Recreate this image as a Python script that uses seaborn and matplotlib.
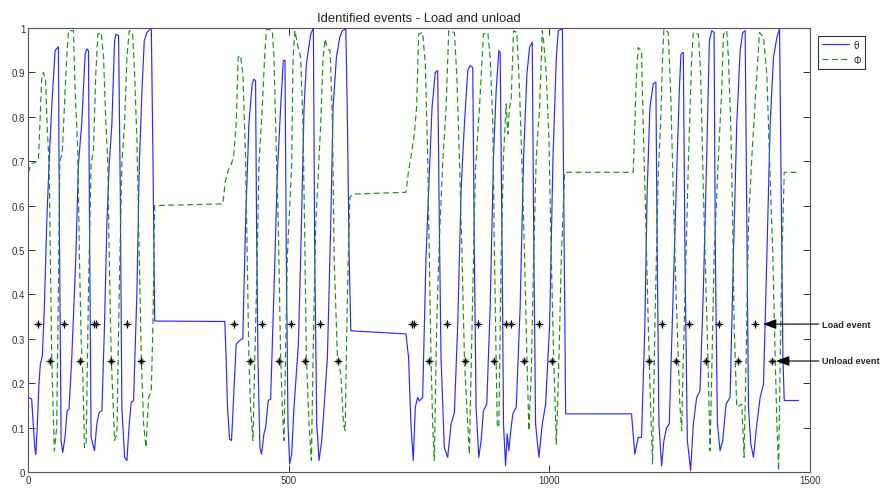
import numpy as np
import matplotlib
matplotlib.use("Agg")
import matplotlib.pyplot as plt
import seaborn as sns

sns.set_theme(style="white")
plt.rcParams["font.family"] = ["Liberation Sans", "DejaVu Sans"]

# theta (blue, solid)
theta_x = [
    0, 7, 10, 13.5, 15, 18, 21, 23.7, 27.6, 31.4,
    35.9, 40.4, 45.5, 52, 58.3, 60.2, 63.5, 66.7, 71, 75,
    78.8, 84, 91.7, 96.8, 103, 109.6, 112.8, 116, 118, 121,
    127.5, 132, 136.5, 141.7, 146.8, 151.3, 155.8, 160.9, 166, 168.6,
    173.7, 177, 180, 185.3, 189.7, 194.2, 198, 202.5, 209, 213.5,
    218.6, 223, 228.2, 236.5, 239.7, 243,
    377.5, 380, 382.7, 386.5, 390.4, 394.9, 399.3, 405.8, 412, 417.3,
    423.7, 430, 433.3, 436.5, 438.4, 441, 444.9, 448, 452.6, 455.8,
    460.9, 465.4, 471.8, 478.2, 484.6, 489.7, 492.9, 495.5, 498.7, 501.9,
    505.8, 510.2, 514.7, 518.6, 523, 529.5, 534, 542.3, 547.4, 550,
    553.8, 558.3, 563.4, 567.9, 574.3, 580.7, 585.2, 591.6, 598, 603.2,
    609.6, 612.8, 616, 619.2,
    725, 730, 734.5, 739, 742.9, 747.4, 750.6, 757, 763.4, 769.8,
    775, 781.3, 785.8, 789, 792.2, 798.6, 805, 811.5, 817.9, 824.3,
    830.7, 837.1, 843.5, 848, 853.1, 856.3, 859.5, 864.7, 869.2, 873.6,
    880, 886.5, 892.9, 898, 903.1, 905.7, 909.5, 912.1, 916, 919.2,
    922.4, 925.6, 930, 936.5, 944, 950.6, 957, 962, 967.2, 970.4,
    973.6, 980, 986.5, 992.9, 1000.6, 1007, 1013.4, 1017.2, 1025, 1027.5,
    1031.3,
    1157.6, 1164, 1170.4, 1176.8, 1183.3, 1187.7, 1192.9, 1199.3, 1204.4, 1207,
    1210.2, 1215.3, 1219.8, 1224.9, 1230, 1237.7, 1244.2, 1249.3, 1252.5, 1257,
    1260.2, 1264.7, 1271, 1276.2, 1282.6, 1289, 1295.4, 1301.8, 1307, 1311.5,
    1316, 1318.5, 1322.4, 1327.5, 1332.6, 1339, 1346.7, 1353, 1359.5, 1366,
    1371, 1375.6, 1378.8, 1382, 1386.5, 1391.6, 1398, 1404.4, 1410.8, 1417.2,
    1423.6, 1430, 1436.5, 1441.6, 1444.1, 1448, 1450.6, 1478,
]
theta_y = [
    0.167, 0.165, 0.108, 0.048, 0.04, 0.108, 0.198, 0.243, 0.262, 0.371,
    0.559, 0.694, 0.821, 0.949, 0.958, 0.559, 0.07, 0.044, 0.078, 0.138,
    0.142, 0.258, 0.483, 0.694, 0.784, 0.941, 0.953, 0.949, 0.559, 0.078,
    0.048, 0.108, 0.134, 0.138, 0.333, 0.559, 0.694, 0.784, 0.971, 0.986,
    0.983, 0.634, 0.146, 0.033, 0.026, 0.108, 0.157, 0.161, 0.408, 0.694,
    0.859, 0.971, 0.99, 1.0, 0.709, 0.34,
    0.339, 0.258, 0.146, 0.074, 0.071, 0.183, 0.288, 0.296, 0.3, 0.559,
    0.784, 0.874, 0.885, 0.881, 0.559, 0.258, 0.055, 0.04, 0.086, 0.1,
    0.161, 0.164, 0.408, 0.671, 0.821, 0.926, 0.928, 0.483, 0.108, 0.018,
    0.04, 0.146, 0.221, 0.288, 0.483, 0.821, 0.919, 0.986, 1.0, 0.483,
    0.108, 0.026, 0.071, 0.146, 0.258, 0.559, 0.821, 0.934, 0.979, 0.994,
    0.998, 0.784, 0.483, 0.318,
    0.311, 0.258, 0.108, 0.026, 0.146, 0.168, 0.16, 0.168, 0.483, 0.671,
    0.821, 0.9, 0.904, 0.559, 0.258, 0.055, 0.033, 0.108, 0.134, 0.333,
    0.634, 0.784, 0.904, 0.915, 0.911, 0.483, 0.146, 0.033, 0.071, 0.138,
    0.153, 0.371, 0.709, 0.859, 0.949, 0.945, 0.483, 0.108, 0.014, 0.086,
    0.048, 0.089, 0.131, 0.146, 0.371, 0.709, 0.896, 0.956, 0.968, 0.483,
    0.108, 0.033, 0.108, 0.153, 0.333, 0.709, 0.934, 0.994, 0.998, 0.634,
    0.131,
    0.131, 0.04, 0.078, 0.078, 0.333, 0.634, 0.821, 0.874, 0.878, 0.483,
    0.108, 0.014, 0.071, 0.1, 0.108, 0.408, 0.671, 0.859, 0.941, 0.945,
    0.483, 0.071, 0.003, 0.108, 0.168, 0.183, 0.408, 0.709, 0.971, 0.994,
    0.99, 0.483, 0.108, 0.048, 0.071, 0.153, 0.168, 0.483, 0.784, 0.949,
    0.99, 0.994, 0.559, 0.146, 0.063, 0.033, 0.108, 0.168, 0.198, 0.483,
    0.784, 0.934, 0.979, 0.998, 0.709, 0.258, 0.161, 0.161,
]

# phi (green, dashed)
phi_x = [
    0, 2, 5.8, 13.5, 19.9, 23.1, 26.3, 29.5, 34, 36.5,
    40.4, 43, 45.5, 48, 50.6, 55, 58.3, 60.9, 66, 71.2,
    74.4, 77.6, 87.2, 90.4, 95.5, 98.7, 102, 105.1, 108.3, 111.5,
    116, 121, 125.6, 130, 134, 140.4, 144.9, 149.4, 153.2, 155.8,
    159.6, 162.8, 166, 170.5, 175, 180, 185.3, 189.7, 194.2, 200.6,
    204.5, 209, 213.5, 217.3, 221.8, 226.3, 231.4, 236.5, 239.7, 243,
    373.7, 378.8, 384, 390.4, 394.9, 399.3, 403.2, 407.7, 412.2, 417.3,
    420.5, 423.7, 426.9, 431.4, 435.2, 439.7, 443, 449.3, 454.5, 457.7,
    468.6, 471.8, 476.3, 480.1, 484.6, 487.8, 491, 497.4, 505.8, 508.3,
    512.2, 516.6, 523, 527.5, 531.4, 534, 539, 543.6, 546.8, 552,
    561.5, 566, 569.9, 574.3, 579.5, 584, 587.2, 593.6, 600, 605.1,
    608.3, 612.8, 617.3, 623.7,
    725, 730, 734.5, 741, 745.4, 749.3, 757, 762.1, 766.6, 769.8,
    773, 776.2, 779.4, 783.9, 789, 795.4, 801.9, 807, 817.9, 822.4,
    827.5, 832.6, 837.1, 841.6, 846.7, 851.8, 858.3, 866, 873.6, 882,
    886.5, 891.6, 894.8, 898, 900, 903.1, 907.6, 912, 917.2, 920.4,
    923.6, 926.8, 931.3, 937.7, 942.9, 948, 952.5, 957, 960.8, 965.3,
    969.8, 974.9, 981.3, 986.5, 989, 994.2, 999.3, 1003.8, 1008.3, 1013.4,
    1018.5, 1023, 1029.4,
    1160.8, 1164, 1167.2, 1170.4, 1176.8, 1180, 1185.2, 1189.7, 1194.2, 1198,
    1202.5, 1208.9, 1213.4, 1217.2, 1219.8, 1228, 1232.6, 1237.7, 1242.9, 1247.4,
    1250.6, 1253.8, 1257, 1262.1, 1266.6, 1273, 1276.2, 1285.8, 1290.3, 1295.4,
    1300.6, 1305, 1308.3, 1311.5, 1316, 1324.3, 1330.7, 1333.9, 1340.3, 1343.5,
    1348, 1351.8, 1354.4, 1359.5, 1369.1, 1373.6, 1377.5, 1382, 1388.4, 1398,
    1403.1, 1410.8, 1417.2, 1422.3, 1428.8, 1433.2, 1436.5, 1439.7, 1442.9, 1446.1,
    1450.6, 1478,
]
phi_y = [
    0.675, 0.679, 0.694, 0.697, 0.701, 0.791, 0.889, 0.9, 0.881, 0.784,
    0.694, 0.483, 0.258, 0.146, 0.048, 0.1, 0.408, 0.694, 0.724, 0.859,
    0.934, 0.994, 0.994, 0.859, 0.724, 0.483, 0.296, 0.221, 0.055, 0.06,
    0.408, 0.694, 0.724, 0.896, 0.986, 0.99, 0.934, 0.784, 0.694, 0.483,
    0.258, 0.168, 0.071, 0.086, 0.408, 0.694, 0.784, 0.934, 0.994, 0.99,
    0.896, 0.746, 0.483, 0.258, 0.108, 0.055, 0.168, 0.183, 0.333, 0.6,
    0.604, 0.656, 0.679, 0.694, 0.716, 0.784, 0.934, 0.938, 0.896, 0.709,
    0.483, 0.258, 0.146, 0.071, 0.258, 0.483, 0.694, 0.821, 0.949, 0.998,
    0.994, 0.934, 0.724, 0.559, 0.258, 0.146, 0.071, 0.483, 0.694, 0.934,
    0.994, 0.964, 0.934, 0.784, 0.483, 0.258, 0.108, 0.026, 0.258, 0.559,
    0.784, 0.934, 0.975, 0.953, 0.949, 0.784, 0.483, 0.258, 0.221, 0.108,
    0.093, 0.408, 0.619, 0.626,
    0.63, 0.679, 0.709, 0.761, 0.821, 0.986, 0.99, 0.919, 0.709, 0.483,
    0.258, 0.108, 0.026, 0.333, 0.521, 0.694, 0.821, 0.994, 0.99, 0.896,
    0.709, 0.483, 0.258, 0.146, 0.04, 0.333, 0.679, 0.821, 0.986, 0.99,
    0.934, 0.784, 0.483, 0.258, 0.108, 0.1, 0.483, 0.709, 0.829, 0.761,
    0.821, 0.836, 0.994, 0.99, 0.859, 0.671, 0.483, 0.258, 0.093, 0.221,
    0.483, 0.709, 0.821, 0.994, 0.971, 0.896, 0.746, 0.483, 0.258, 0.063,
    0.258, 0.483, 0.675,
    0.675, 0.784, 0.896, 0.956, 0.949, 0.784, 0.559, 0.333, 0.146, 0.018,
    0.333, 0.671, 0.784, 0.934, 0.998, 0.99, 0.859, 0.634, 0.408, 0.258,
    0.146, 0.093, 0.258, 0.483, 0.694, 0.934, 0.99, 0.986, 0.896, 0.634,
    0.408, 0.221, 0.048, 0.221, 0.483, 0.709, 0.859, 0.986, 0.994, 0.934,
    0.784, 0.559, 0.333, 0.146, 0.153, 0.033, 0.258, 0.559, 0.709, 0.896,
    0.99, 0.979, 0.896, 0.709, 0.483, 0.258, 0.108, 0.003, 0.258, 0.483,
    0.675, 0.675,
]
assert len(theta_x) == len(theta_y) and len(phi_x) == len(phi_y)

# detected events
load_x = [20, 70, 127, 130, 190, 396, 449, 505, 561, 737, 741, 803, 863,
          917, 926, 980, 1217, 1268, 1326, 1395]
unload_x = [42, 100, 159, 217, 426, 481, 531, 594, 770, 838, 894, 951, 1006,
            1191, 1243, 1301, 1362, 1428]
load_level = 0.333
unload_level = 0.25

ytick_vals = [0, 0.1, 0.2, 0.3, 0.4, 0.5, 0.6, 0.7, 0.8, 0.9, 1]
ytick_labels = ["0", "0.1", "0.2", "0.3", "0.4", "0.5", "0.6", "0.7", "0.8", "0.9", "1"]
xtick_vals = [0, 500, 1000, 1500]

W, H = 883, 489
fig = plt.figure(figsize=(W / 100, H / 100), dpi=100)
ax = fig.add_axes([28 / W, 16 / H, 782 / W, 444 / H])

sns.lineplot(x=theta_x, y=theta_y, sort=False, estimator=None, color="#2a2aff",
             lw=0.85, label="θ", ax=ax)
sns.lineplot(x=phi_x, y=phi_y, sort=False, estimator=None, color="#1a8f1a",
             lw=0.85, linestyle=(0, (5, 3)), label="Φ", ax=ax)

# load events: small asterisk; unload events: dark dot under an asterisk
sns.scatterplot(x=load_x, y=[load_level] * len(load_x), marker="+", s=30,
                color="black", edgecolor="black", linewidth=0.8, ax=ax, zorder=5)
sns.scatterplot(x=load_x, y=[load_level] * len(load_x), marker="x", s=8,
                color="#222222", edgecolor="#222222", linewidth=0.7, ax=ax, zorder=5)
sns.scatterplot(x=unload_x, y=[unload_level] * len(unload_x), marker="o", s=14,
                color="#333333", edgecolor="#999999", linewidth=0.7, ax=ax, zorder=5)
sns.scatterplot(x=unload_x, y=[unload_level] * len(unload_x), marker="+", s=26,
                color="black", edgecolor="black", linewidth=0.6, ax=ax, zorder=6)

ax.set_xlim(0, 1500)
ax.set_ylim(0, 1)
ax.set_xticks(xtick_vals)
ax.set_yticks(ytick_vals)
ax.set_yticklabels(ytick_labels)
ax.tick_params(direction="in", length=5, width=0.7, top=True, right=True,
               bottom=True, left=True, labelsize=7, colors="#333333", pad=2)
for s in ax.spines.values():
    s.set_visible(True)
    s.set_color("#555555")
    s.set_linewidth(0.8)
ax.grid(False)
ax.set_title("Identified events - Load and unload", fontsize=9.4, pad=5)

handles, labels = ax.get_legend_handles_labels()
leg = ax.legend(handles[:2], labels[:2], loc="upper left",
                bbox_to_anchor=(818 / W, 1 - 37 / H), bbox_transform=fig.transFigure,
                frameon=True, fancybox=False, edgecolor="black", fontsize=7,
                handlelength=2.8, borderpad=0.4, labelspacing=0.5,
                handletextpad=0.4, borderaxespad=0)
leg.get_frame().set_linewidth(0.8)

arrow = dict(arrowstyle="-|>,head_length=0.8,head_width=0.3", color="black",
             lw=0.8, mutation_scale=10, shrinkA=0, shrinkB=0)
ax.annotate("Load event", xy=(1410, load_level), xytext=(822 / W, 1 - 325 / H),
            textcoords="figure fraction", ha="left", va="center", fontsize=6.6,
            fontweight="bold", arrowprops=arrow, annotation_clip=False)
ax.annotate("Unload event", xy=(1435, unload_level), xytext=(822 / W, 1 - 362 / H),
            textcoords="figure fraction", ha="left", va="center", fontsize=6.6,
            fontweight="bold", arrowprops=arrow, annotation_clip=False)

fig.savefig("out.png", dpi=100)
